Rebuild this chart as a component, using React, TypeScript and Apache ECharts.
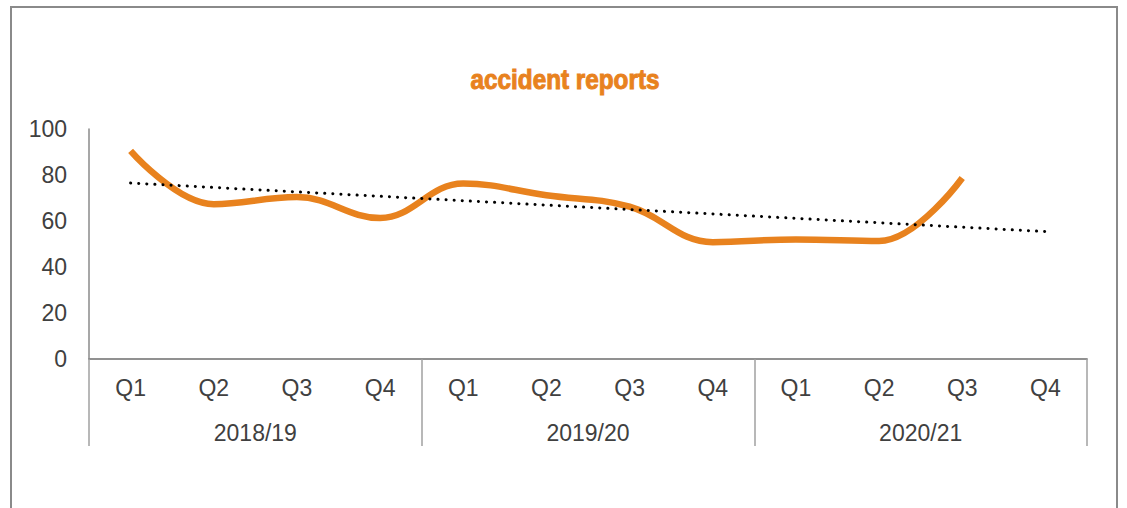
import React, { useEffect, useRef } from "react";
import * as echarts from "echarts";

const quarters = ["Q1", "Q2", "Q3", "Q4", "Q1", "Q2", "Q3", "Q4", "Q1", "Q2", "Q3", "Q4"];
const years = ["2018/19", "2019/20", "2020/21"];
const reports: (number | null)[] = [90.5, 67.3, 70.4, 61.3, 76.3, 71.2, 66.2, 50.8, 52, 51.3, 78.7, null];
const trend: (number | null)[] = [76.5, null, null, null, null, null, null, null, null, null, null, 55.4];

export default function App() {
  const ref = useRef<HTMLDivElement>(null);
  useEffect(() => {
    const chart = echarts.init(ref.current!, undefined, { renderer: "svg" });
    chart.setOption({
      animation: false,
      graphic: [
        {
          type: "rect",
          shape: { x: 11, y: 7, width: 1106, height: 540 },
          style: { fill: "none", stroke: "#8a8a8a", lineWidth: 2 },
          silent: true,
        },
        {
          type: "text",
          x: 565,
          y: 80,
          scaleX: 0.9,
          originX: 0,
          style: {
            text: "accident reports",
            font: "bold 27px 'Liberation Sans'",
            fill: "#E8821E",
            stroke: "#E8821E",
            lineWidth: 1,
            align: "center",
            verticalAlign: "middle",
          },
        },
      ],
      grid: { left: 89, right: 40, top: 129, bottom: 149 },
      xAxis: [
        {
          type: "category",
          data: quarters,
          boundaryGap: true,
          axisLine: { show: true, lineStyle: { color: "#8a8a8a", width: 1.5 } },
          axisTick: { show: false },
          axisLabel: { fontSize: 23, color: "#404040", margin: 17, fontFamily: "Liberation Sans" },
        },
        {
          type: "category",
          data: years,
          position: "bottom",
          boundaryGap: true,
          axisLine: { show: true, lineStyle: { color: "#8a8a8a", width: 1.5 } },
          axisTick: { show: true, length: 87, lineStyle: { color: "#a0a0a0", width: 1.5 } },
          axisLabel: { fontSize: 23, color: "#404040", margin: 62, fontFamily: "Liberation Sans" },
        },
      ],
      yAxis: {
        type: "value",
        min: 0,
        max: 100,
        interval: 20,
        axisLine: { show: true, lineStyle: { color: "#8a8a8a", width: 1.5 } },
        axisTick: { show: false },
        splitLine: { show: false },
        axisLabel: { fontSize: 23, color: "#404040", margin: 22, fontFamily: "Liberation Sans" },
      },
      series: [
        {
          type: "line",
          data: reports,
          xAxisIndex: 0,
          smooth: 0.4,
          showSymbol: false,
          lineStyle: { color: "#E8821E", width: 6.5 },
        },
        {
          type: "line",
          data: trend,
          xAxisIndex: 0,
          connectNulls: true,
          showSymbol: false,
          lineStyle: { color: "#000", width: 3, type: [0.1, 8], cap: "round" },
        },
      ],
    });
    return () => chart.dispose();
  }, []);
  return (
    <div
      ref={ref}
      style={{ position: "absolute", left: 0, top: 0, width: 1127, height: 508, background: "#fff" }}
    />
  );
}
